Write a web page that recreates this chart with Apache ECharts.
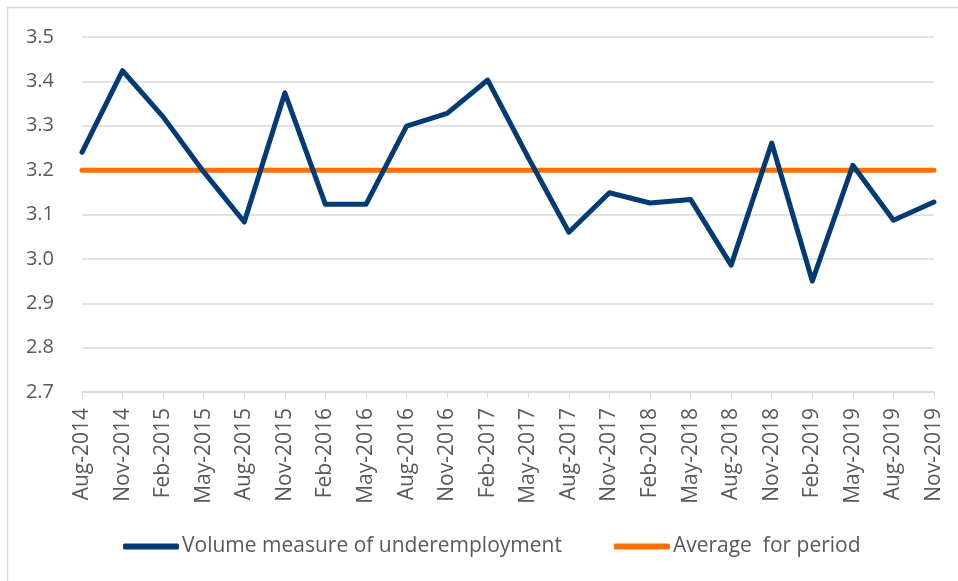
<!DOCTYPE html>
<html>
<head>
<meta charset="utf-8">
<script src="https://cdn.jsdelivr.net/npm/echarts@6/dist/echarts.min.js"></script>
<style>
  html, body { margin: 0; padding: 0; background: #fff; }
  #chart { width: 958px; height: 581px; }
</style>
</head>
<body>
<div id="chart"></div>
<script>
const categories = [
  'Aug-2014', 'Nov-2014', 'Feb-2015', 'May-2015', 'Aug-2015', 'Nov-2015',
  'Feb-2016', 'May-2016', 'Aug-2016', 'Nov-2016', 'Feb-2017', 'May-2017',
  'Aug-2017', 'Nov-2017', 'Feb-2018', 'May-2018', 'Aug-2018', 'Nov-2018',
  'Feb-2019', 'May-2019', 'Aug-2019', 'Nov-2019'
];
const underemployment = [
  3.24, 3.424, 3.32, 3.196, 3.083, 3.374,
  3.123, 3.123, 3.299, 3.328, 3.403, 3.228,
  3.06, 3.149, 3.126, 3.134, 2.986, 3.261,
  2.95, 3.211, 3.087, 3.128
];
const periodAverage = categories.map(() => 3.2);
const yTicks = [2.7, 3.5, 0.1]; // min, max, step

const NAVY = '#003B73';
const ORANGE = '#FF7000';
const FONT = 'Open Sans';

const chart = echarts.init(document.getElementById('chart'), null, { renderer: 'canvas' });

chart.setOption({
  animation: false,
  backgroundColor: '#fff',
  graphic: [{
    type: 'rect',
    shape: { x: 7.5, y: 7.5, width: 960, height: 600 },
    style: { fill: 'none', stroke: '#d9d9d9', lineWidth: 1.5 },
    silent: true
  }],
  grid: { left: 82, right: 24, top: 37, bottom: 189 },
  legend: {
    top: 531,
    left: 118,
    itemWidth: 56,
    itemHeight: 6,
    itemGap: 52,
    icon: 'roundRect',
    textStyle: { color: '#595959', fontSize: 21, fontFamily: FONT, padding: [0, 0, 0, -2] },
    data: ['Volume measure of underemployment', 'Average  for period']
  },
  xAxis: {
    type: 'category',
    data: categories,
    boundaryGap: false,
    axisLine: { lineStyle: { color: '#d9d9d9', width: 1.5 } },
    axisTick: { show: true, alignWithLabel: true, length: 6, lineStyle: { color: '#d9d9d9' } },
    axisLabel: {
      rotate: 90,
      interval: 0,
      margin: 16,
      color: '#595959',
      fontSize: 21,
      fontFamily: FONT
    },
    splitLine: { show: false }
  },
  yAxis: {
    type: 'value',
    min: yTicks[0],
    max: yTicks[1],
    interval: yTicks[2],
    axisLine: { show: false },
    axisTick: { show: false },
    axisLabel: {
      color: '#595959',
      fontSize: 20,
      fontFamily: FONT,
      margin: 28,
      formatter: (v) => v.toFixed(1)
    },
    splitLine: { lineStyle: { color: '#d9d9d9', width: 1.5 } }
  },
  series: [
    {
      name: 'Volume measure of underemployment',
      type: 'line',
      data: underemployment,
      showSymbol: false,
      symbol: 'none',
      lineStyle: { color: NAVY, width: 5, cap: 'round', join: 'round' },
      itemStyle: { color: NAVY },
      z: 3
    },
    {
      name: 'Average  for period',
      type: 'line',
      data: periodAverage,
      showSymbol: false,
      symbol: 'none',
      lineStyle: { color: ORANGE, width: 5, cap: 'round' },
      itemStyle: { color: ORANGE },
      z: 2
    }
  ]
});
</script>
</body>
</html>
